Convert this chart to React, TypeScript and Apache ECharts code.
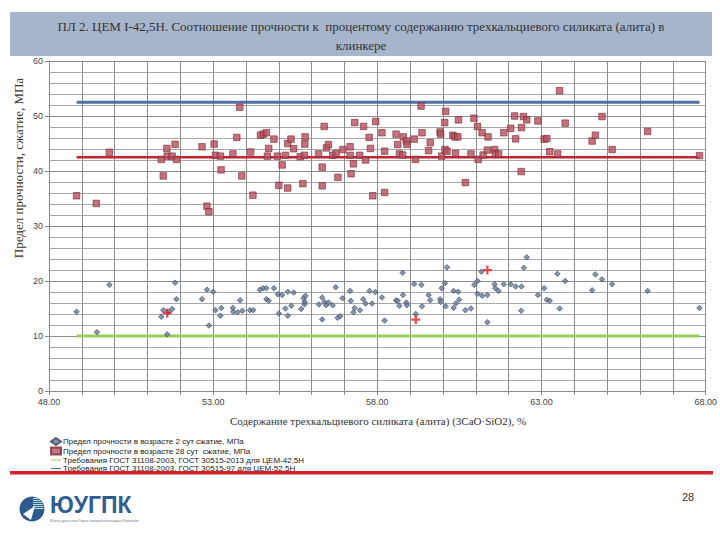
import React, { useEffect, useRef } from "react";
import * as echarts from "echarts";

// ---------- data ----------
const titleLines = [
  "ПЛ 2. ЦЕМ I-42,5Н. Соотношение прочности к  процентому содержанию трехкальциевого силиката (алита) в",
  "клинкере",
];
const xAxisTitle = "Содержание трехкальциевого силиката (алита) (3CaO·SiO2), %";
const yAxisTitle = "Предел прочности, сжатие, МПа";

const series2Name = "Предел прочности в возрасте 2 сут сжатие, МПа";
const series28Name = "Предел прочности в возрасте 28 сут  сжатие, МПа";
const req425Name = "Требования ГОСТ 31108-2003, ГОСТ 30515-2013 для ЦЕМ-42,5Н";
const req525Name = "Требования ГОСТ 31108-2003, ГОСТ 30515-97 для ЦЕМ-52,5Н";

// 2-day compressive strength: [C3S %, MPa]
const strength2Day: [number, number][] = [
  [48.84, 14.4], [49.46, 10.7], [49.84, 19.3], [51.42, 13.5], [51.48, 14.7], [51.64, 14.4],
  [51.75, 14.9], [51.84, 19.7], [51.88, 16.7], [51.6, 10.3], [52.66, 16.7], [52.81, 18.4],
  [52.87, 11.9], [53.0, 18.05], [53.07, 14.7], [53.25, 15.1], [53.22, 13.7], [53.6, 15.1],
  [53.61, 14.4], [53.74, 14.3], [53.82, 16.5], [53.89, 14.6], [54.12, 14.7], [54.22, 14.7],
  [54.42, 18.4], [54.52, 18.7], [54.62, 18.7], [54.62, 16.7], [54.69, 16.4], [54.85, 18.7],
  [54.97, 17.6], [55.0, 14.1], [55.1, 17.45], [55.2, 15.0], [55.27, 13.7], [55.27, 18.05],
  [55.38, 15.5], [55.45, 17.9], [55.68, 14.9], [55.75, 16.85], [55.79, 16.2], [55.81, 17.3],
  [55.78, 15.75], [56.22, 15.75], [56.32, 13.0], [56.32, 17.0], [56.39, 16.2], [56.44, 15.6],
  [56.51, 16.1], [56.64, 15.6], [56.73, 18.85], [56.79, 13.3], [56.87, 13.6], [56.94, 16.85],
  [57.17, 18.2], [57.19, 16.4], [57.27, 14.3], [57.31, 15.1], [57.47, 14.7], [57.57, 16.7],
  [57.64, 15.9], [57.76, 18.2], [57.84, 15.9], [57.94, 18.0], [58.14, 17.0], [58.22, 12.8],
  [58.57, 16.5], [58.62, 16.4], [58.67, 15.5], [58.77, 21.5], [58.78, 17.45], [58.88, 16.1],
  [58.9, 15.6], [59.12, 19.45], [59.17, 14.0], [59.34, 19.3], [59.36, 15.4], [59.56, 17.45],
  [59.61, 16.5], [59.91, 16.7], [59.93, 16.2], [59.96, 18.7], [60.06, 19.6], [60.08, 15.4],
  [60.12, 22.5], [60.32, 15.1], [60.32, 18.2], [60.39, 15.9], [60.46, 18.05], [60.49, 16.6],
  [60.68, 14.7], [60.85, 15.0], [60.95, 19.3], [61.05, 20.0], [61.05, 17.7], [61.19, 17.3],
  [61.17, 21.7], [61.35, 17.45], [61.35, 12.5], [61.57, 19.4], [61.59, 18.7], [61.69, 18.2],
  [61.85, 19.4], [62.06, 19.4], [62.21, 19.0], [62.39, 19.0], [62.38, 14.6], [62.46, 22.4],
  [62.55, 24.3], [62.89, 17.45], [63.08, 18.7], [63.16, 16.6], [63.25, 16.4], [63.48, 21.3],
  [63.55, 15.0], [63.72, 20.0], [64.54, 18.3], [64.64, 21.2], [64.84, 20.3], [65.15, 19.4],
  [66.23, 18.2], [67.81, 15.1],
];

// highlighted 2-day points (red crosses)
const highlighted2Day: [number, number][] = [
  [51.6, 14.2], [59.17, 13.0], [61.35, 22.0],
];

// 28-day compressive strength: [C3S %, MPa]
const strength28Day: [number, number][] = [
  [48.84, 35.5], [49.44, 34.1], [49.84, 43.4], [51.42, 42.1], [51.48, 39.1], [51.59, 44.1],
  [51.6, 42.7], [51.75, 42.7], [51.84, 44.85], [51.88, 42.1], [52.66, 44.4], [52.81, 33.6],
  [52.87, 32.6], [53.03, 44.9], [53.07, 42.85], [53.22, 42.7], [53.24, 40.2], [53.6, 43.1],
  [53.72, 46.1], [53.81, 51.6], [53.87, 39.1], [54.14, 43.45], [54.21, 35.6], [54.44, 46.5],
  [54.52, 46.7], [54.62, 46.96], [54.65, 42.7], [54.69, 44.1], [54.85, 45.8], [54.96, 42.7],
  [55.0, 37.4], [55.1, 41.1], [55.2, 42.85], [55.27, 36.9], [55.27, 45.0], [55.37, 45.8],
  [55.45, 44.05], [55.65, 42.6], [55.73, 37.7], [55.78, 42.85], [55.8, 46.2], [55.79, 44.9],
  [56.21, 43.1], [56.32, 40.7], [56.32, 37.3], [56.38, 48.1], [56.45, 44.2], [56.51, 44.8],
  [56.64, 42.85], [56.74, 43.2], [56.8, 38.85], [56.95, 43.9], [57.17, 44.4], [57.17, 42.85],
  [57.2, 39.5], [57.27, 41.3], [57.31, 48.8], [57.46, 42.85], [57.58, 48.1], [57.64, 42.0],
  [57.75, 46.1], [57.79, 44.1], [57.86, 35.5], [57.95, 49.0], [58.14, 46.96], [58.22, 43.6],
  [58.22, 36.1], [58.57, 46.7], [58.62, 44.8], [58.67, 43.1], [58.77, 42.9], [58.79, 46.2],
  [58.88, 45.45], [58.9, 44.85], [59.12, 45.8], [59.16, 42.1], [59.33, 51.8], [59.36, 46.96],
  [59.56, 43.7], [59.61, 45.15], [59.91, 47.1], [59.93, 46.7], [59.96, 42.7], [60.05, 48.8],
  [60.08, 50.85], [60.06, 43.9], [60.12, 43.6], [60.3, 46.5], [60.36, 46.2], [60.45, 46.2],
  [60.38, 43.2], [60.47, 49.3], [60.68, 37.9], [60.85, 43.1], [60.94, 49.6], [61.07, 42.1],
  [61.05, 48.1], [61.19, 46.96], [61.22, 42.9], [61.35, 43.8], [61.37, 46.2], [61.57, 43.9],
  [61.59, 43.1], [61.69, 43.1], [61.85, 46.96], [62.06, 47.75], [62.18, 50.0], [62.21, 45.85],
  [62.38, 39.9], [62.39, 47.9], [62.45, 49.9], [62.55, 49.3], [62.89, 49.1], [63.08, 45.8],
  [63.16, 45.9], [63.25, 43.5], [63.49, 43.1], [63.55, 54.6], [63.72, 48.7], [64.54, 45.45],
  [64.64, 46.5], [64.84, 49.9], [65.15, 43.9], [66.23, 47.2], [67.81, 42.8],
];

// requirement lines span the measured C3S range
const requirementSpan = [48.84, 67.81];
const req2Day425 = 10;     // 2-day, CEM 42,5N
const req28Day425 = 42.5;  // 28-day, CEM 42,5N
const req28Day525 = 52.5;  // 28-day, CEM 52,5N

const xTicks = [48, 53, 58, 63, 68];

const hLine = (v: number) => requirementSpan.map((x) => [x, v]);

export default function App() {
  const ref = useRef<HTMLDivElement>(null);
  useEffect(() => {
    if (!ref.current) return;
    const chart = echarts.init(ref.current, undefined, { renderer: "svg" });
    const sans = "Liberation Sans";
    const serif = "Liberation Serif";

    // logo stripes inside the upper-right part of the circle
    const cx = 32, cy = 509, r = 12.5;
    const stripes: any[] = [];
    for (let y = cy - r + 2; y <= cy; y += 2) {
      const half = Math.sqrt(r * r - (y - cy) * (y - cy));
      stripes.push({
        type: "line",
        shape: { x1: cx + 1, y1: y, x2: cx + half - 0.8, y2: y },
        style: { stroke: "#B9DDD2", lineWidth: 1 },
        z: 101,
      });
    }

    const lineIcon = "path://M0,4 L20,4 L20,6 L0,6 Z";

    const option: any = {
      animation: false,
      backgroundColor: "#ffffff",
      grid: { left: 49, top: 61, width: 662, height: 330, containLabel: false },
      legend: {
        orient: "vertical",
        left: 50,
        top: 437,
        padding: 0,
        itemGap: 0.5,
        itemWidth: 10,
        itemHeight: 7,
        textStyle: { fontSize: 8, fontFamily: sans, color: "#222", lineHeight: 8, padding: [0, 0, 0, -3] },
        data: [
          { name: series2Name },
          { name: series28Name },
          { name: req425Name, icon: lineIcon },
          { name: req525Name, icon: lineIcon },
        ],
      },
      xAxis: {
        type: "value",
        min: 48,
        max: 68,
        interval: 1,
        axisLine: { show: true, onZero: false, lineStyle: { color: "#8a8a8a", width: 1 } },
        axisTick: { show: true, length: 4, lineStyle: { color: "#8a8a8a" } },
        axisLabel: {
          fontSize: 9,
          fontFamily: sans,
          color: "#444",
          margin: 6,
          showMinLabel: true,
          showMaxLabel: true,
          formatter: (v: number) =>
            xTicks.indexOf(Math.round(v)) >= 0 ? Math.round(v).toFixed(2) : "",
        },
        splitLine: { show: true, lineStyle: { color: "#8c8c8c", width: 1 } },
      },
      yAxis: {
        type: "value",
        min: 0,
        max: 60,
        interval: 10,
        axisLine: { show: true, lineStyle: { color: "#8a8a8a", width: 1 } },
        axisTick: { show: true, length: 4, lineStyle: { color: "#8a8a8a" } },
        minorTick: { show: false, splitNumber: 5 },
        minorSplitLine: { show: true, lineStyle: { color: "#a8a8a8", width: 1.2 } },
        axisLabel: { fontSize: 9, fontFamily: sans, color: "#444", margin: 6 },
        splitLine: { show: true, lineStyle: { color: "#8c8c8c", width: 1.2 } },
      },
      series: [
        {
          name: req425Name,
          type: "line",
          data: hLine(req2Day425),
          symbol: "none",
          lineStyle: { color: "#9BCB5B", width: 3 },
          itemStyle: { color: "#9BCB5B" },
          z: 3,
        },
        {
          name: "req28_425",
          type: "line",
          data: hLine(req28Day425),
          symbol: "none",
          lineStyle: { color: "#C8232B", width: 2.5 },
          itemStyle: { color: "#C8232B" },
          z: 3,
        },
        {
          name: req525Name,
          type: "line",
          data: hLine(req28Day525),
          symbol: "none",
          lineStyle: { color: "#4F71A3", width: 3 },
          itemStyle: { color: "#4F71A3" },
          z: 3,
        },
        {
          name: series28Name,
          type: "scatter",
          data: strength28Day,
          symbol: "rect",
          symbolSize: 6.5,
          itemStyle: { color: "#B5505E", borderColor: "#7A2C38", borderWidth: 0.8 },
          z: 4,
        },
        {
          name: series2Name,
          type: "scatter",
          data: strength2Day,
          symbol: "diamond",
          symbolSize: 5.5,
          itemStyle: { color: "#647C9E", borderColor: "#3A4456", borderWidth: 0.8 },
          z: 5,
        },
        {
          name: "highlight",
          type: "scatter",
          data: highlighted2Day,
          symbol: "path://M3,0 L5,0 L5,3 L8,3 L8,5 L5,5 L5,8 L3,8 L3,5 L0,5 L0,3 L3,3 Z",
          symbolSize: 9,
          itemStyle: { color: "#E0202A" },
          z: 6,
        },
      ],
      graphic: [
        {
          type: "rect",
          shape: { x: 10, y: 12, width: 702, height: 44 },
          style: { fill: "#A6B5CB" },
          z: 100,
        },
        {
          type: "text",
          x: 361,
          y: 26,
          style: {
            text: titleLines[0],
            align: "center",
            verticalAlign: "middle",
            fontFamily: serif,
            fontSize: 13,
            fill: "#333",
          },
          z: 101,
        },
        {
          type: "text",
          x: 361,
          y: 45,
          style: {
            text: titleLines[1],
            align: "center",
            verticalAlign: "middle",
            fontFamily: serif,
            fontSize: 13,
            fill: "#333",
          },
          z: 101,
        },
        {
          type: "text",
          x: 18,
          y: 168,
          rotation: Math.PI / 2,
          style: {
            text: yAxisTitle,
            align: "center",
            verticalAlign: "middle",
            fontFamily: serif,
            fontSize: 13,
            fill: "#333",
          },
          z: 101,
        },
        {
          type: "text",
          x: 378,
          y: 421,
          style: {
            text: xAxisTitle,
            align: "center",
            verticalAlign: "middle",
            fontFamily: serif,
            fontSize: 11,
            fill: "#333",
          },
          z: 101,
        },
        {
          type: "rect",
          shape: { x: 10, y: 471, width: 703, height: 3.5 },
          style: { fill: "#D4202A" },
          z: 100,
        },
        {
          type: "circle",
          shape: { cx, cy, r },
          style: { fill: "#2C5C8D" },
          z: 100,
        },
        ...stripes,
        {
          type: "polygon",
          shape: { points: [[23, 514], [35, 506], [31, 520]] },
          style: { fill: "#ffffff" },
          z: 102,
        },
        {
          type: "text",
          x: 50,
          y: 505,
          style: {
            text: "ЮУГПК",
            align: "left",
            verticalAlign: "middle",
            fontFamily: sans,
            fontWeight: "bold",
            fontSize: 23,
            fill: "#2F5E91",
          },
          z: 101,
        },
        {
          type: "text",
          x: 50,
          y: 521,
          style: {
            text: "Южно-уральская Горно-перерабатывающая Компания",
            align: "left",
            verticalAlign: "middle",
            fontFamily: sans,
            fontSize: 3.5,
            fill: "#6A7D96",
          },
          z: 101,
        },
        {
          type: "text",
          x: 688,
          y: 497,
          style: {
            text: "28",
            align: "center",
            verticalAlign: "middle",
            fontFamily: sans,
            fontSize: 11,
            fill: "#333",
          },
          z: 101,
        },
      ],
    };
    chart.setOption(option);
    return () => chart.dispose();
  }, []);
  return (
    <div
      ref={ref}
      style={{ position: "fixed", left: 0, top: 0, width: 720, height: 540, background: "#fff" }}
    />
  );
}
